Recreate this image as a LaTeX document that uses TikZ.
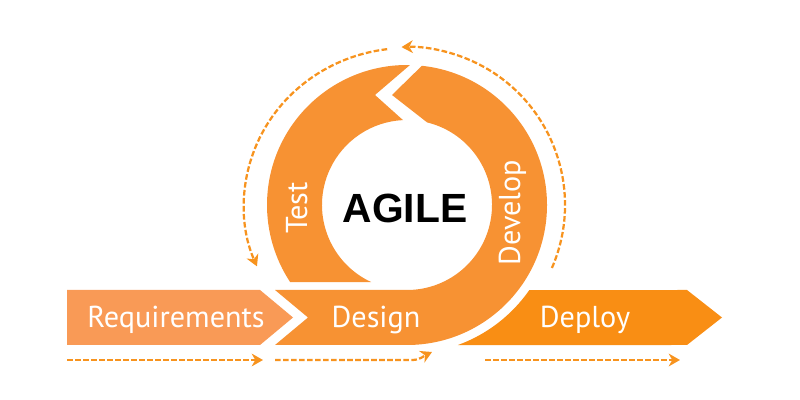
\documentclass[tikz,border=0pt]{standalone}
\usepackage{fontspec}
\setmainfont{PT Sans}
\newfontfamily\agilefont{Liberation Sans}
\usepackage{tikz}
\usetikzlibrary{arrows.meta,calc,positioning}
\definecolor{reqorange}{HTML}{F99A56}
\definecolor{ringorange}{HTML}{F79233}
\definecolor{deployorange}{HTML}{F98E14}
\definecolor{dashorange}{HTML}{F7931E}

\begin{document}
\begin{tikzpicture}[x=0.025cm, y=0.025cm,
    lbl/.style={text=white, font=\fontsize{21.5}{21.5}\selectfont, inner sep=0pt, anchor=base},
    flow/.style={dashorange, line width=1.6pt, dash pattern=on 4pt off 1.7pt, -{Stealth[length=8pt, width=9pt, inset=2.5pt]}},
  ]
    \useasboundingbox (0,0) rectangle (800,400);
    \coordinate (ctr) at (407,195);

    % --- bottom bar ---
    \fill[reqorange] (67,110) -- (260,110) -- (293,82.5) -- (260,55) -- (67,55) -- cycle;
    \fill[deployorange] ($(ctr)+(-34.8:149)$) -- (687,110) -- (722,82.5) -- (687,55)
      -- ($(ctr)+(-70:149)$) arc[start angle=-70, end angle=-34.8, radius=149] -- cycle;

    % --- ring ---
    % Test part
    \fill[ringorange] ($(ctr)+(88.8:140)$) arc[start angle=88.8, end angle=213.4, radius=140]
      -- ($(ctr)+(245:85)$) arc[start angle=245, end angle=92.7, radius=85] -- (375,305) -- cycle;
    % Develop + Design part
    \fill[ringorange] ($(ctr)+(83.9:140)$) -- (392,305)
      -- ($(ctr)+(76.3:85)$) arc[start angle=76.3, end angle=-90, radius=85]
      -- (275,110) -- (308,82.5) -- (275,55) -- (407,55)
      arc[start angle=-90, end angle=83.9, radius=140] -- cycle;

    % Labels
    \node[lbl] (req) at (176,72) {Requirements};
    \node[lbl] (design) at (376,72) {Design};
    \node[lbl] (deploy) at (585,72) {Deploy};
    \node[lbl, rotate=90] (test) at (307,192) {Test};
    \node[lbl, rotate=90] (develop) at (520,187.5) {Develop};
    \node[inner sep=0pt, anchor=base, font=\agilefont\bfseries\fontsize{29}{29}\selectfont] (agile) at (405,177) {AGILE};

    % --- dashed flow arrows ---
    \coordinate (reqs) at (67,40);
    \coordinate (reqe) at (263,40);
    \coordinate (dess) at (275,40);
    \coordinate (dese) at (432,48);
    \coordinate (deps) at (485,40);
    \coordinate (depe) at (680,40);
    \draw[flow] (reqs) -- (reqe);
    \draw[flow] (dess) -- (412,40) to[out=0, in=205] (dese);
    \draw[flow] (deps) -- (depe);

    % loop round the ring
    \coordinate (lps) at ($(ctr)+(97:163 and 157)$);
    \coordinate (rps) at ($(ctr)+(-23.5:158)$);
    \draw[flow] (lps) arc[start angle=97, end angle=203, x radius=163, y radius=157];
    \draw[flow] (rps) arc[start angle=-23.5, end angle=92, radius=158];

  \end{tikzpicture}
\end{document}
